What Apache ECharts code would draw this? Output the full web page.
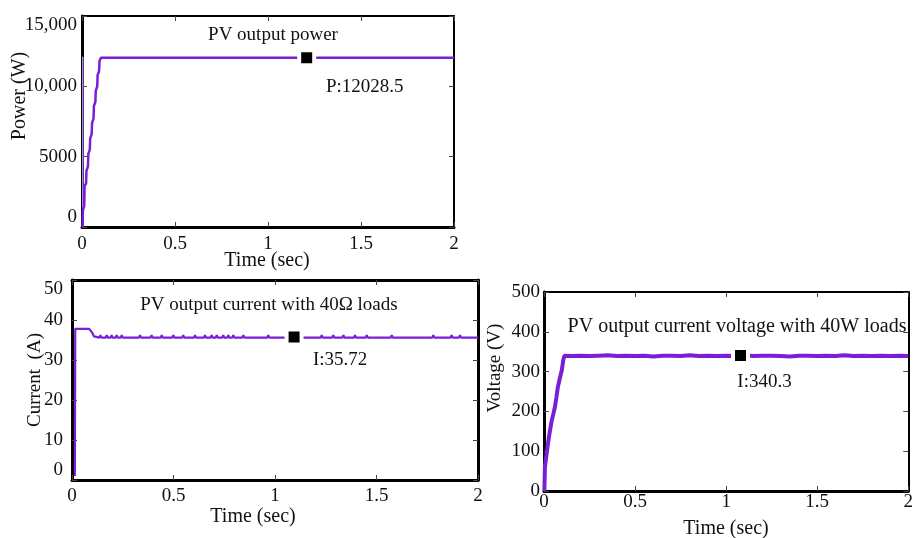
<!DOCTYPE html>
<html><head><meta charset="utf-8">
<script src="https://cdn.jsdelivr.net/npm/echarts@6/dist/echarts.min.js"></script>
<style>html,body{margin:0;padding:0;background:#fff}#c{width:916px;height:538px}</style>
</head><body><div id="c"></div>
<script>
// ---- tick labels ----
const timeTicks = ['0', '0.5', '1', '1.5', '2'];
const powerTicks = ['0', '5000', '10,000', '15,000'];
const currentTicks = ['0', '10', '20', '30', '40', '50'];
const voltageTicks = ['0', '100', '200', '300', '400', '500'];

// ---- PV output power ----
const powerInitT = [0.004, 0.004];
const powerInitV = [0, 12100];
const powerT = [0.003, 0.005, 0.012, 0.014, 0.022, 0.024, 0.032, 0.034, 0.042, 0.044, 0.052, 0.054, 0.062, 0.064, 0.072, 0.074, 0.082, 0.084, 0.092, 0.094, 0.102, 2.0];
const powerV = [0, 1200, 1500, 2900, 3100, 4000, 4300, 5200, 5500, 6300, 6600, 7400, 7700, 8600, 8900, 9700, 10000, 10800, 11100, 11800, 12028, 12028];
const powerMarker = [1.208, 12028.5];
const powerMarkerText = 'P:12028.5';

// ---- PV output current ----
const currentT = [0.014, 0.016, 0.085, 0.092, 0.100, 0.108, 0.115,
  0.135, 0.140, 0.145, 0.166, 0.171, 0.176, 0.190, 0.195, 0.200, 0.215, 0.220, 0.225,
  0.240, 0.245, 0.250, 0.330, 0.335, 0.340, 0.387, 0.392, 0.397, 0.437, 0.442, 0.447,
  0.494, 0.499, 0.504, 0.543, 0.548, 0.553, 0.601, 0.606, 0.611, 0.650, 0.655, 0.660,
  0.683, 0.688, 0.693, 0.708, 0.713, 0.718, 0.740, 0.745, 0.750, 0.765, 0.770, 0.775,
  0.790, 0.795, 0.800, 0.839, 0.844, 0.849, 0.962, 0.967, 0.972, 1.225, 1.230, 1.235,
  1.282, 1.287, 1.292, 1.332, 1.337, 1.342, 1.389, 1.394, 1.399, 1.447, 1.452, 1.457,
  1.570, 1.575, 1.580, 1.775, 1.780, 1.785, 1.865, 1.870, 1.875, 1.906, 1.911, 1.916, 2.0];
const currentV = [1, 37.8, 37.8, 37.6, 36.8, 35.9, 35.6,
  35.6, 36.2, 35.6, 35.6, 36.2, 35.6, 35.6, 36.2, 35.6, 35.6, 36.2, 35.6,
  35.6, 36.2, 35.6, 35.6, 36.2, 35.6, 35.6, 36.2, 35.6, 35.6, 36.2, 35.6,
  35.6, 36.2, 35.6, 35.6, 36.2, 35.6, 35.6, 36.2, 35.6, 35.6, 36.2, 35.6,
  35.6, 36.2, 35.6, 35.6, 36.2, 35.6, 35.6, 36.2, 35.6, 35.6, 36.2, 35.6,
  35.6, 36.2, 35.6, 35.6, 36.2, 35.6, 35.6, 36.2, 35.6, 35.6, 36.2, 35.6,
  35.6, 36.2, 35.6, 35.6, 36.2, 35.6, 35.6, 36.2, 35.6, 35.6, 36.2, 35.6,
  35.6, 36.2, 35.6, 35.6, 36.2, 35.6, 35.6, 36.2, 35.6, 35.6, 36.2, 35.6, 35.6];
const currentMarker = [1.094, 35.72];
const currentMarkerText = 'I:35.72';

// ---- PV output voltage ----
const voltageT = [0.002, 0.005, 0.012, 0.022, 0.032, 0.043, 0.052, 0.060, 0.068, 0.076, 0.088, 0.098, 0.106, 0.112,
  0.15, 0.2, 0.25, 0.3, 0.35, 0.4, 0.45, 0.5, 0.55, 0.6, 0.65, 0.7, 0.75, 0.8, 0.85, 0.9, 0.95, 1.0, 1.05,
  1.1, 1.15, 1.2, 1.25, 1.3, 1.35, 1.4, 1.45, 1.5, 1.55, 1.6, 1.65, 1.7, 1.75, 1.8, 1.85, 1.9, 1.95, 2.0];
const voltageV = [0, 60, 85, 120, 150, 178, 195, 211, 235, 261, 285, 304, 330, 340,
  339, 340, 339, 340, 341, 339, 340, 339, 340, 338, 340, 340, 339, 341, 339, 340, 339, 340, 339,
  341, 339, 340, 340, 339, 338, 340, 340, 339, 340, 339, 341, 339, 340, 339, 340, 339, 340, 339];
const voltageMarker = [1.079, 340.3];
const voltageMarkerText = 'I:340.3';

const F = 'Liberation Serif';
const PURPLE = '#7a1fd8';
const zip = (a, b) => a.map((t, i) => [t, b[i]]);

function xAx(g, pos, lw, margin) {
  return {
    type: 'value', gridIndex: g, position: pos, min: 0, max: 2, interval: 0.5,
    axisLine: { show: true, onZero: false, lineStyle: { color: '#000', width: lw } },
    axisTick: { show: true, inside: true, length: 5, lineStyle: { color: '#444', width: 1 } },
    axisLabel: { show: pos === 'bottom', margin: margin, color: '#111', fontFamily: F, fontSize: 19,
      formatter: v => timeTicks[Math.round(v / 0.5)] },
    splitLine: { show: false }
  };
}
function yAx(g, pos, lw, max, interval, ticks, margin, edgeAlign) {
  return {
    type: 'value', gridIndex: g, position: pos, min: 0, max: max, interval: interval,
    axisLine: { show: true, onZero: false, lineStyle: { color: '#000', width: lw } },
    axisTick: { show: true, inside: true, length: 5, lineStyle: { color: '#444', width: 1 } },
    axisLabel: { show: pos === 'left', margin: margin, color: '#111', fontFamily: F, fontSize: 19,
      verticalAlignMinLabel: edgeAlign ? 'bottom' : 'middle', verticalAlignMaxLabel: edgeAlign ? 'top' : 'middle',
      formatter: v => ticks[Math.round(v / interval)] },
    splitLine: { show: false }
  };
}
function txt(x, y, s, size, rot) {
  return { type: 'text', x: x, y: y, rotation: rot ? Math.PI / 2 : 0, z: 10,
    style: { text: s, fill: '#111', font: size + 'px "' + F + '"',
      align: 'center', verticalAlign: 'middle', textAlign: 'center', textVerticalAlign: 'middle' } };
}
function marker(xi, yi, pt, text, off) {
  return { type: 'scatter', xAxisIndex: xi, yAxisIndex: yi, data: [pt], z: 5,
    symbol: 'rect', symbolSize: 15,
    itemStyle: { color: '#000', borderColor: '#fff', borderWidth: 4, opacity: 1 },
    label: { show: true, position: 'inside', offset: off, formatter: text,
      color: '#111', fontFamily: F, fontSize: 19 } };
}

const chart = echarts.init(document.getElementById('c'), null, { renderer: 'canvas' });
chart.setOption({
  animation: false,
  backgroundColor: '#fff',
  grid: [
    { left: 82, top: 16, width: 372, height: 211 },
    { left: 72, top: 280, width: 406, height: 200 },
    { left: 544, top: 292, width: 369, height: 199 }
  ],
  xAxis: [
    xAx(0, 'bottom', 3, 8), xAx(0, 'top', 2, 0),
    xAx(1, 'bottom', 3, 7), xAx(1, 'top', 3, 0),
    xAx(2, 'bottom', 3, 2), xAx(2, 'top', 2, 0)
  ],
  yAxis: [
    yAx(0, 'left', 3, 15000, 5000, powerTicks, 5, true), yAx(0, 'right', 2, 15000, 5000, powerTicks, 0, true),
    yAx(1, 'left', 3, 50, 10, currentTicks, 9, true), yAx(1, 'right', 3, 50, 10, currentTicks, 0, true),
    yAx(2, 'left', 3, 500, 100, voltageTicks, 4, false), yAx(2, 'right', 2, 500, 100, voltageTicks, 0, false)
  ],
  graphic: [
    txt(273, 35, 'PV output power', 19),
    txt(20, 96, 'Power (W)', 20, true),
    txt(267, 261, 'Time (sec)', 20),
    txt(269, 305, 'PV output current with 40Ω loads', 19),
    txt(35, 380, 'Current  (A)', 19, true),
    txt(253, 517, 'Time (sec)', 20),
    txt(737, 327, 'PV output current voltage with 40W loads', 20),
    txt(495, 368, 'Voltage (V)', 19, true),
    txt(726, 529, 'Time (sec)', 20)
  ],
  series: [
    { type: 'line', xAxisIndex: 0, yAxisIndex: 0, data: zip(powerInitT, powerInitV), showSymbol: false,
      lineStyle: { color: '#b27ef0', width: 1.5 } },
    { type: 'line', xAxisIndex: 0, yAxisIndex: 0, data: zip(powerT, powerV), showSymbol: false,
      lineStyle: { color: PURPLE, width: 2.5 } },
    marker(0, 0, powerMarker, powerMarkerText, [58, 29]),
    { type: 'line', xAxisIndex: 2, yAxisIndex: 2, data: zip(currentT, currentV), showSymbol: false,
      lineStyle: { color: PURPLE, width: 2.2 } },
    marker(2, 2, currentMarker, currentMarkerText, [46, 23]),
    { type: 'line', xAxisIndex: 4, yAxisIndex: 4, data: zip(voltageT, voltageV), showSymbol: false,
      lineStyle: { color: PURPLE, width: 4 } },
    marker(4, 4, voltageMarker, voltageMarkerText, [24, 26])
  ]
});
</script>
</body></html>
